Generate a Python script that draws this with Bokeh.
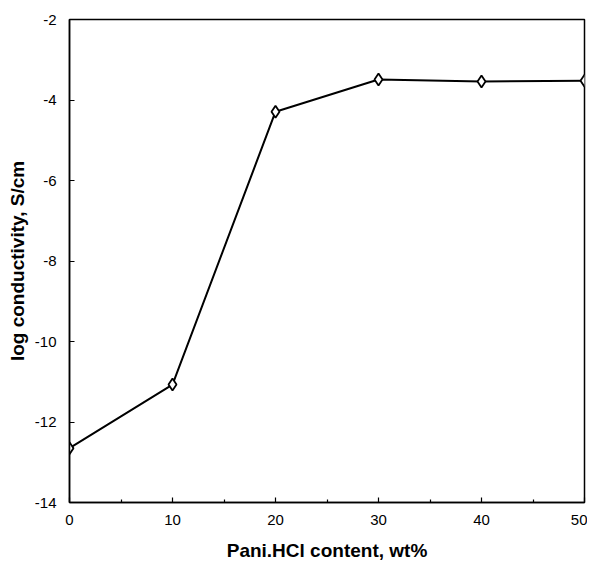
from bokeh.plotting import figure
from bokeh.models import Range1d, FixedTicker, PrintfTickFormatter
from bokeh.embed import file_html
from bokeh.resources import INLINE

content = [0, 10, 20, 30, 40, 50]
log_cond = [-12.65, -11.07, -4.29, -3.49, -3.54, -3.52]
x_ticks = [0, 10, 20, 30, 40, 50]
x_minor = [5, 15, 25, 35, 45]
y_ticks = [-14, -12, -10, -8, -6, -4, -2]

p = figure(width=587, height=563, output_backend="svg", toolbar_location=None,
           x_range=Range1d(0, 50), y_range=Range1d(-14, -2),
           min_border_left=69, min_border_right=3, min_border_top=19, min_border_bottom=58)
p.grid.visible = False
p.background_fill_color = "white"
p.border_fill_color = "white"
p.outline_line_color = "black"
p.outline_line_width = 1.5

font = "Liberation Sans"
for ax in p.xaxis:
    ax.ticker = FixedTicker(ticks=x_ticks, minor_ticks=x_minor)
for ax in p.yaxis:
    ax.ticker = FixedTicker(ticks=y_ticks, minor_ticks=[])
for ax in p.xaxis + p.yaxis:
    ax.formatter = PrintfTickFormatter(format="%d")
    ax.major_tick_in = 5
    ax.major_tick_out = 0
    ax.minor_tick_in = 3
    ax.minor_tick_out = 0
    ax.axis_line_width = 1.5
    ax.major_tick_line_width = 1.2
    ax.minor_tick_line_width = 1.2
    ax.axis_line_color = "black"
    ax.major_label_text_font = font
    ax.major_label_text_font_size = "15px"
    ax.major_label_text_color = "black"
    ax.axis_label_text_font = font
    ax.axis_label_text_font_size = "19px"
    ax.axis_label_text_font_style = "bold"
    ax.axis_label_text_color = "black"

p.xaxis.axis_label = "Pani.HCl content, wt%"
p.yaxis.axis_label = "log conductivity, S/cm"
p.xaxis.major_label_standoff = 12
p.yaxis.major_label_standoff = 13
p.xaxis.axis_label_standoff = 12
p.yaxis.axis_label_standoff = 4

p.line(content, log_cond, line_color="black", line_width=2)
p.scatter(content, log_cond, marker="diamond", size=12, fill_color="white",
          line_color="black", line_width=1.8)

open("out.html", "w").write(file_html(p, INLINE))
